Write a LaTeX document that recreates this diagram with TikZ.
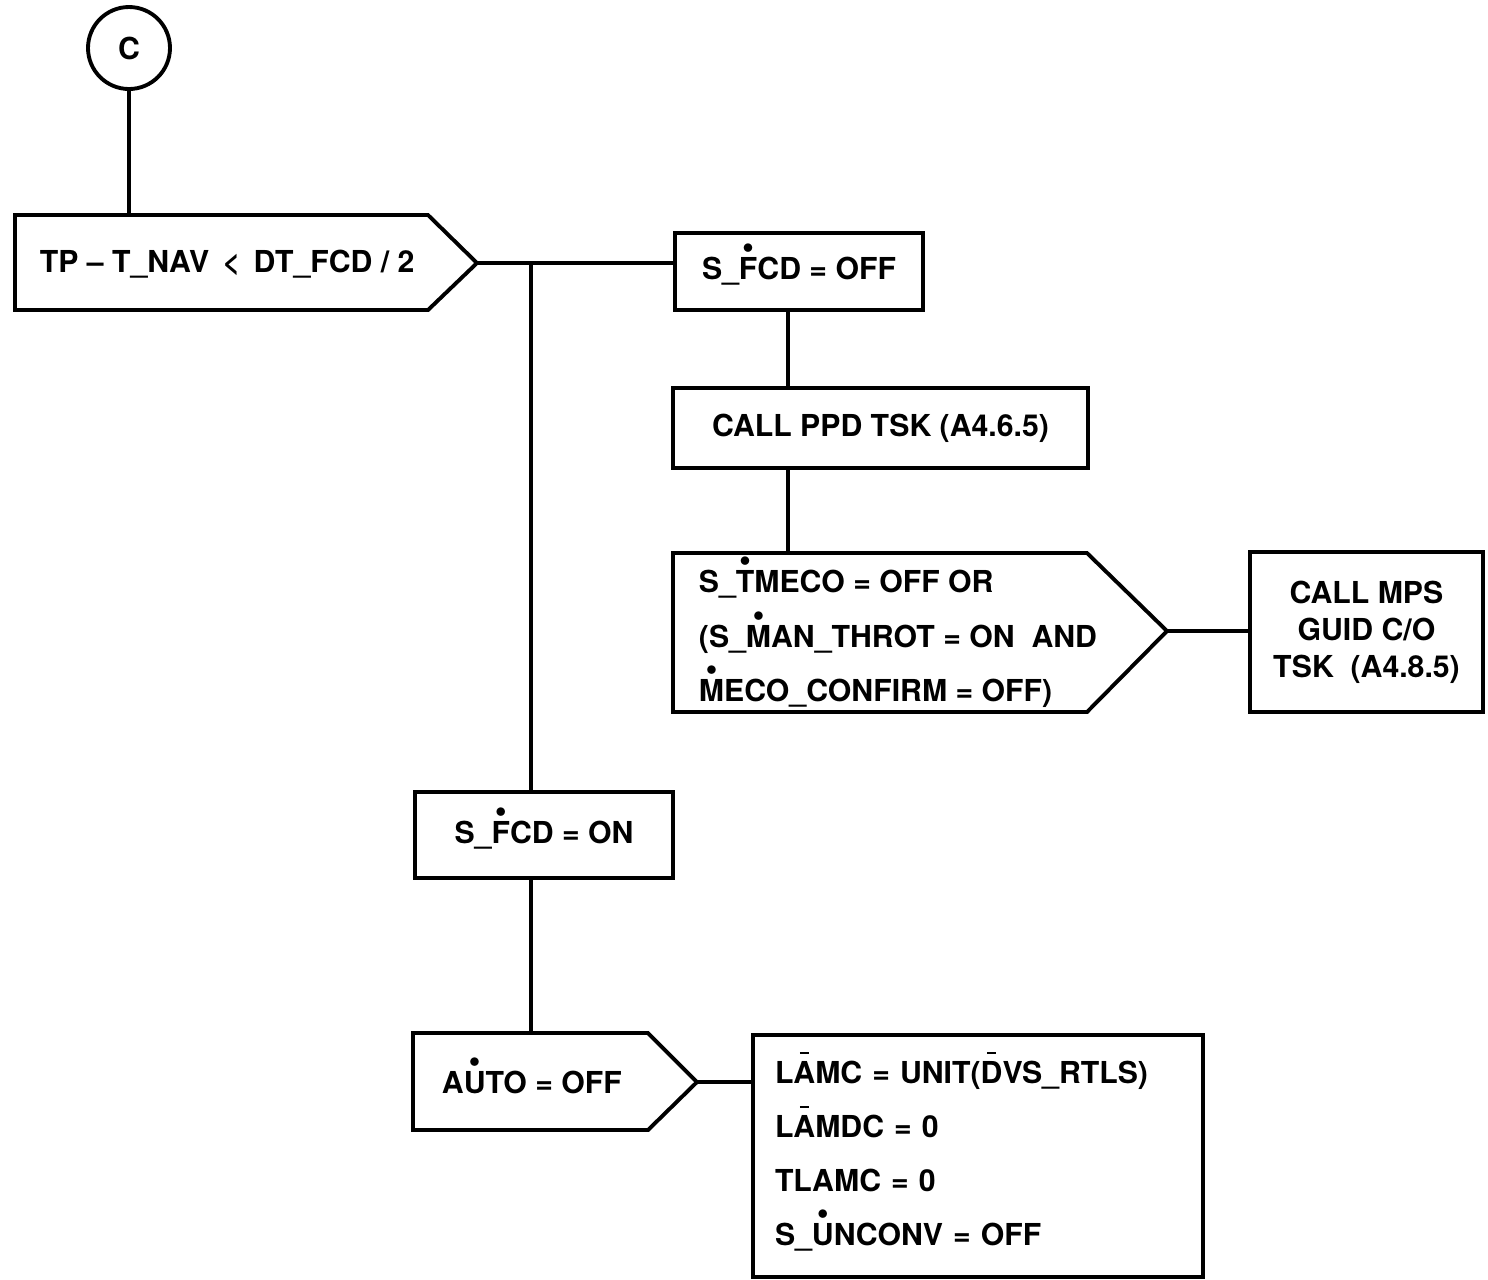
\documentclass[tikz,border=0pt]{standalone}
\usepackage{fontspec}
\setmainfont{TeX Gyre Heros}
\newcommand\dotv[1]{\ooalign{#1\cr\hidewidth\raisebox{1.65ex}{\tiny$\bullet$}\hidewidth\cr}}
\newcommand\barv[1]{\ooalign{#1\cr\hidewidth\raisebox{1.8ex}{\rule{0.3em}{0.6pt}}\hidewidth\cr}}
\tikzset{box/.style={draw,rectangle,inner sep=0pt},
  txt/.style={inner sep=0pt,anchor=west}}
\begin{document}
\begin{tikzpicture}[x=0.1mm,y=-0.1mm,line width=1.1pt,font=\fontsize{8.6}{11}\selectfont\bfseries]
  \useasboundingbox (0,0) rectangle (1488,1279);
  \node[draw,circle,minimum size=8.2mm,inner sep=0pt] (C) at (129,48) {C};
  % first test
  \coordinate (A1) at (15,215);
  \coordinate (T1) at (477,263);
  \draw (A1) -- (428,215) -- (T1) -- (428,310) -- (15,310) -- cycle;
  \node[txt] (q1) at (38,264) {TP -- T\_NAV \,<\, DT\_FCD / 2};
  \draw (C) -- (C |- A1);
  \node[box,minimum width=24.8mm,minimum height=7.7mm] (off) at (799,271.5) {S\_\dotv{F}CD = OFF};
  \draw (T1) -- (T1 -| off.west);
  \node[box,minimum width=41.5mm,minimum height=8mm] (ppd) at (880.5,428) {CALL PPD TSK (A4.6.5)};
  % second test
  \coordinate (A2) at (673,553);
  \coordinate (T2) at (1167,631);
  \draw (A2) -- (1087,553) -- (T2) -- (1087,712) -- (673,712) -- cycle;
  \node[txt,align=left,font=\fontsize{8.6}{15.5}\selectfont\bfseries] (q2) at (697,639)
    {S\_\dotv{T}MECO = OFF OR\\(S\_\dotv{M}AN\_THROT = ON \ AND\\\dotv{M}ECO\_CONFIRM = OFF)};
  \coordinate (V) at (788,0);
  \draw (V |- off.south) -- (V |- ppd.north);
  \draw (V |- ppd.south) -- (V |- A2);
  \node[box,minimum width=23.3mm,minimum height=16mm,align=center,font=\fontsize{8.6}{10.5}\selectfont\bfseries] (mps) at (1366.5,632)
    {CALL MPS\\GUID C/O\\TSK \ (A4.8.5)};
  \draw (T2) -- (T2 -| mps.west);
  % ON branch
  \coordinate (B) at (531,263);
  \node[box,minimum width=25.8mm,minimum height=8.6mm] (on) at (544,835) {S\_\dotv{F}CD = ON};
  \coordinate (A3) at (413,1033);
  \coordinate (T3) at (697,1082);
  \draw (A3) -- (648,1033) -- (T3) -- (648,1130) -- (413,1130) -- cycle;
  \node[txt] (q3) at (440,1082) {A\dotv{U}TO = OFF};
  \draw (B) -- (B |- on.north);
  \draw (B |- on.south) -- (B |- A3);
  \node[box,minimum height=24.2mm,text width=40.6mm,inner xsep=2.2mm,align=left,font=\fontsize{8.6}{15.3}\selectfont\bfseries] (set) at (978,1156)
    {L\barv{A}MC = UNIT(\barv{D}VS\_RTLS)\\L\barv{A}MDC = 0\\TLAMC = 0\\S\_\dotv{U}NCONV = OFF};
  \draw (T3) -- (T3 -| set.west);
\end{tikzpicture}
\end{document}
